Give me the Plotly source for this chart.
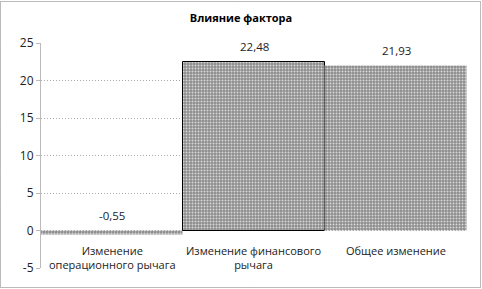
import plotly.graph_objects as go

categories = ["Изменение<br>операционного рычага", "Изменение финансового<br>рычага", "Общее изменение"]
values = [-0.55, 22.48, 21.93]
labels = ["-0,55", "22,48", "21,93"]
yticks = [-5, 0, 5, 10, 15, 20, 25]

font = "Open Sans"
fig = go.Figure()
fig.add_trace(go.Bar(
    x=list(range(len(categories))), y=values,
    width=1,
    marker=dict(
        color="#8c8c8c",
        line=dict(color=["rgba(0,0,0,0)", "black", "rgba(0,0,0,0)"], width=1),
        pattern=dict(shape=".", fgcolor="#d8d8d8", bgcolor="#8c8c8c", size=3, solidity=0.35, fillmode="replace"),
    ),
    hoverinfo="skip",
))

for i, (v, t) in enumerate(zip(values, labels)):
    fig.add_annotation(x=i, y=max(v, 0), text=t, showarrow=False, yanchor="bottom", yshift=6,
                       font=dict(family=font, size=11.5, color="#222"))
    fig.add_annotation(x=i, y=0, text=categories[i], showarrow=False, yanchor="top", yshift=-10,
                       font=dict(family=font, size=11, color="#222"))

fig.add_shape(type="rect", xref="paper", yref="paper", x0=-40.5/426, x1=1+13.5/426, y0=-19.5/225, y1=1+41.5/225,
              line=dict(color="#777", width=1, dash="1px,1px"))

fig.update_layout(
    width=482, height=289,
    margin=dict(l=41, r=15, t=43, b=21),
    paper_bgcolor="white", plot_bgcolor="white",
    showlegend=False,
    bargap=0,
    title=dict(text="<b>Влияние фактора</b>", x=0.5, xanchor="center", y=1-18/289, yanchor="middle",
               font=dict(family=font, size=11, color="black")),
    xaxis=dict(range=[-0.5, 2.5], showticklabels=False, showgrid=False, zeroline=False, showline=False),
    yaxis=dict(range=[-5, 25], tickvals=yticks, ticktext=[str(t) for t in yticks],
               showgrid=True, gridcolor="#aaa", griddash="1px,2px", gridwidth=1,
               zeroline=False, showline=True, linecolor="#bbb",
               ticks="outside", ticklen=4, tickcolor="#bbb",
               tickfont=dict(family=font, size=12, color="#222")),
)

fig.write_html("out.html")
